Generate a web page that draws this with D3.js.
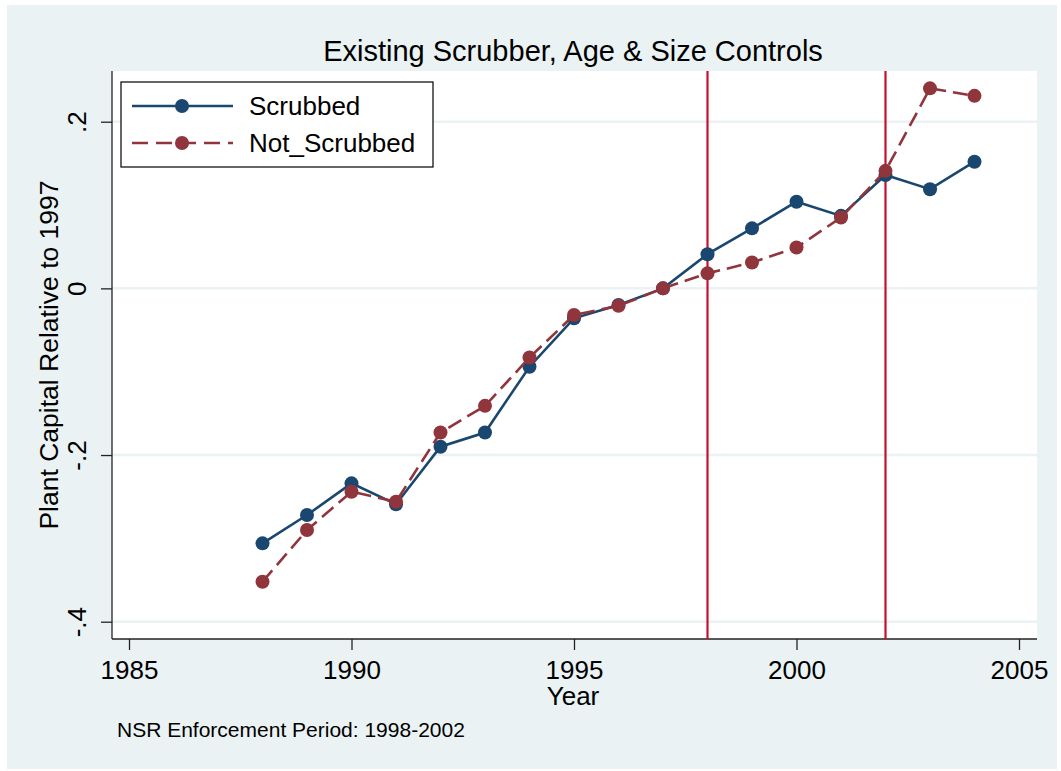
<!DOCTYPE html>
<html>
<head>
<meta charset="utf-8">
<script src="https://cdn.jsdelivr.net/npm/d3@7"></script>
<style>
	body { margin: 0; background: #fff; }
	text { font-family: "Liberation Sans", Arial, sans-serif; fill: #000; }
</style>
</head>
<body>
<div id="chart"></div>
<script>
// data
const years = [1988, 1989, 1990, 1991, 1992, 1993, 1994, 1995, 1996, 1997, 1998, 1999, 2000, 2001, 2002, 2003, 2004]
const scrubbed = [-0.306, -0.272, -0.234, -0.259, -0.190, -0.173, -0.094, -0.036, -0.020, 0, 0.041, 0.072, 0.104, 0.087, 0.136, 0.119, 0.152]
const notScrubbed = [-0.352, -0.290, -0.244, -0.256, -0.173, -0.141, -0.083, -0.032, -0.021, 0, 0.018, 0.031, 0.049, 0.085, 0.141, 0.240, 0.231]
const seriesNames = ["Scrubbed", "Not_Scrubbed"]
const xTicks = [1985, 1990, 1995, 2000, 2005]
const yTicks = [-0.4, -0.2, 0, 0.2]
const yTickLabels = ["-.4", "-.2", "0", ".2"]
const refYears = [1998, 2002]

drawChart()

function drawChart() {
	const width = 1061
	const height = 771
	const navy = "#1a476f"
	const maroon = "#90353b"

	const svg = d3.select("#chart")
		.append("svg")
		.attr("width", width)
		.attr("height", height)

	// outer graph region
	svg.append("rect")
		.attr("x", 7).attr("y", 5)
		.attr("width", 1050).attr("height", 764)
		.attr("fill", "#eaf2f3")

	// plot region
	const plot = { left: 112, top: 71, right: 1037, bottom: 639 }
	svg.append("rect")
		.attr("x", plot.left).attr("y", plot.top)
		.attr("width", plot.right - plot.left)
		.attr("height", plot.bottom - plot.top)
		.attr("fill", "#fff")

	const x = d3.scaleLinear().domain([1985, 2005]).range([129, 1019])
	const y = d3.scaleLinear().domain([-0.4, 0.2]).range([621.7, 121.7])

	// grid lines
	svg.append("g")
		.selectAll("line")
		.data(yTicks)
		.join("line")
		.attr("x1", plot.left).attr("x2", plot.right)
		.attr("y1", d => y(d)).attr("y2", d => y(d))
		.attr("stroke", "#eaf2f3")
		.attr("stroke-width", 2.5)

	// axes
	const yAxis = svg.append("g")
		.attr("transform", `translate(${plot.left},0)`)
		.call(d3.axisLeft(y)
			.tickValues(yTicks)
			.tickSize(11)
			.tickFormat((d, i) => yTickLabels[i]))
	yAxis.select(".domain").remove()
	yAxis.selectAll(".tick line").attr("stroke", "#222").attr("stroke-width", 1.3)
	yAxis.selectAll(".tick text")
		.attr("transform", "rotate(-90)")
		.attr("x", 0)
		.attr("y", -26)
		.attr("dy", 0)
		.attr("text-anchor", "middle")
		.style("font-size", "26px")
		.style("font-family", "Liberation Sans, Arial, sans-serif")
		.attr("fill", "#000")

	const xAxis = svg.append("g")
		.attr("transform", `translate(0,${plot.bottom})`)
		.call(d3.axisBottom(x)
			.tickValues(xTicks)
			.tickSize(11)
			.tickFormat(d3.format("d")))
	xAxis.select(".domain").remove()
	xAxis.selectAll(".tick line").attr("stroke", "#222").attr("stroke-width", 1.3)
	xAxis.selectAll(".tick text")
		.attr("y", 40)
		.attr("dy", 0)
		.style("font-size", "26px")
		.style("font-family", "Liberation Sans, Arial, sans-serif")
		.attr("fill", "#000")

	// axis lines
	svg.append("line")
		.attr("x1", plot.left).attr("x2", plot.left)
		.attr("y1", plot.top).attr("y2", plot.bottom)
		.attr("stroke", "#222").attr("stroke-width", 1.3)
	svg.append("line")
		.attr("x1", plot.left).attr("x2", plot.right)
		.attr("y1", plot.bottom).attr("y2", plot.bottom)
		.attr("stroke", "#222").attr("stroke-width", 1.3)

	// enforcement period lines
	svg.append("g")
		.selectAll("line")
		.data(refYears)
		.join("line")
		.attr("x1", d => x(d)).attr("x2", d => x(d))
		.attr("y1", plot.top).attr("y2", plot.bottom)
		.attr("stroke", "#c8102e")
		.attr("stroke-width", 2.2)

	// series
	const line = d3.line()
		.x((d, i) => x(years[i]))
		.y(d => y(d))

	const series = [
		{ name: seriesNames[0], values: scrubbed, color: navy, dash: null },
		{ name: seriesNames[1], values: notScrubbed, color: maroon, dash: "15,7" }
	]

	series.forEach(s => {
		svg.append("path")
			.datum(s.values)
			.attr("d", line)
			.attr("fill", "none")
			.attr("stroke", s.color)
			.attr("stroke-width", 2.6)
			.attr("stroke-dasharray", s.dash)
		svg.append("g")
			.selectAll("circle")
			.data(s.values)
			.join("circle")
			.attr("cx", (d, i) => x(years[i]))
			.attr("cy", d => y(d))
			.attr("r", 7)
			.attr("fill", s.color)
	})

	// legend
	const legend = svg.append("g")
	legend.append("rect")
		.attr("x", 121).attr("y", 82)
		.attr("width", 312).attr("height", 85)
		.attr("fill", "#fff")
		.attr("stroke", "#000")
		.attr("stroke-width", 1.2)
	const item = legend.selectAll(".ledge")
		.data(series)
		.join("g")
		.attr("class", "ledge")
		.attr("transform", (d, i) => `translate(0,${106 + i * 37})`)
	item.append("line")
		.attr("x1", 132).attr("x2", 233)
		.attr("stroke", d => d.color)
		.attr("stroke-width", 2.6)
		.attr("stroke-dasharray", d => d.dash ? "16,8" : null)
	item.append("circle")
		.attr("cx", 182).attr("r", 7)
		.attr("fill", d => d.color)
	item.append("text")
		.attr("x", 249).attr("y", 9)
		.style("font-size", "26px")
		.text(d => d.name)

	// titles
	svg.append("text")
		.attr("x", 573).attr("y", 61)
		.attr("text-anchor", "middle")
		.style("font-size", "29px")
		.text("Existing Scrubber, Age & Size Controls")

	svg.append("text")
		.attr("x", 573).attr("y", 705)
		.attr("text-anchor", "middle")
		.style("font-size", "26px")
		.text("Year")

	svg.append("text")
		.attr("transform", `translate(58,${(plot.top + plot.bottom) / 2}) rotate(-90)`)
		.attr("text-anchor", "middle")
		.style("font-size", "26.5px")
		.text("Plant Capital Relative to 1997")

	svg.append("text")
		.attr("x", 117).attr("y", 737)
		.style("font-size", "21px")
		.text("NSR Enforcement Period: 1998-2002")
}
</script>
</body>
</html>
